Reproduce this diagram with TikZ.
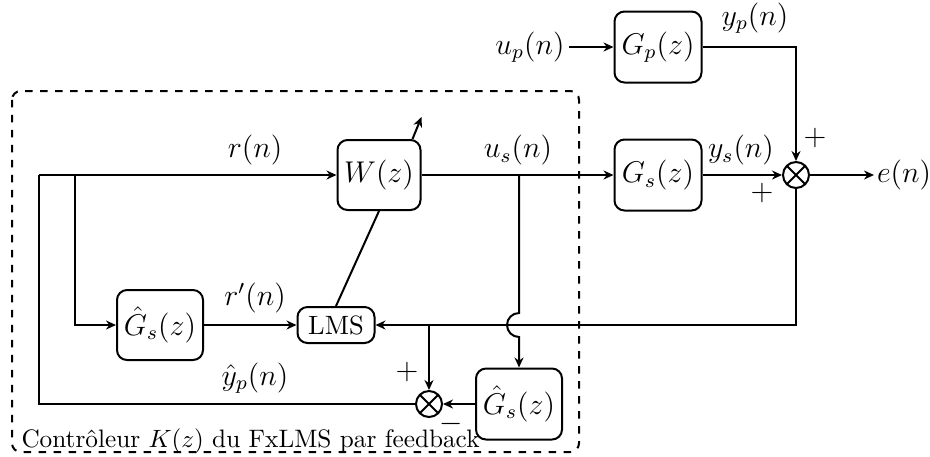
\documentclass[tikz,border=0pt]{standalone}
\usetikzlibrary{arrows.meta,calc}
\tikzset{
  blk/.style={draw, thick, rounded corners=4pt, inner sep=0pt},
  sumnode/.style={circle, draw, thick, minimum size=10.4pt, inner sep=0pt,
    path picture={\draw[thick] (path picture bounding box.north west) -- (path picture bounding box.south east)
      (path picture bounding box.north east) -- (path picture bounding box.south west);}},
  sig/.style={thick, -{Stealth[length=4pt,width=3.6pt]}},
  wire/.style={thick},
  lbl/.style={inner sep=0pt},
}
\begin{document}
\begin{tikzpicture}[x=0.4pt,y=-0.4pt, font=\fontsize{11.5}{14}\selectfont]
\useasboundingbox (0,0) rectangle (930,456);
% dashed controller frame
\draw[thick, dashed, rounded corners=3.5pt] (12,91) rectangle (579,452);
\node[lbl, anchor=base west, font=\fontsize{10.1}{12}\selectfont] (ctl) at (21,447) {Contr\^oleur $K(z)$ du FxLMS par feedback};
% blocks
\node[blk, minimum width=34.8pt, minimum height=28.4pt] (Gp) at (658,47) {$G_p(z)$};
\node[blk, minimum width=34.8pt, minimum height=28.4pt] (Gs) at (658,175) {$G_s(z)$};
\node[blk, minimum width=33.2pt, minimum height=28pt] (W) at (379,175) {$W(z)$};
\node[blk, minimum width=34.4pt, minimum height=28pt] (G1) at (160,325) {$\hat{G}_s(z)$};
\node[blk, minimum width=30.8pt, minimum height=14.4pt, font=\fontsize{10.6}{12}\selectfont] (LMS) at (336,325) {LMS};
\node[blk, minimum width=34.4pt, minimum height=28.4pt] (G2) at (519,404) {$\hat{G}_s(z)$};
\node[sumnode] (S1) at (796,175) {};
\node[sumnode] (S2) at (429,404) {};
\node[inner sep=1pt] (e) at (904,175) {$e(n)$};
\node[inner sep=1.5pt] (up) at (530,47) {$u_p(n)$};
% coordinates
\coordinate (sp1) at (39,175);
\coordinate (sp2) at (75,175);
\coordinate (usb) at (519,175);
\coordinate (br) at (429,325);
% connections
\draw[sig] (sp1) -- (W.west);
\draw[wire] (S2.west) -| (sp1);
\draw[sig] (sp2) |- (G1.west);
\draw[sig] (G1.east) -- (LMS.west);
\draw[wire] (W.south) -- (LMS.north);
\draw[sig] ($(W.north east)+(-9,0)$) -- ($(W.north east)+(0,-22)$);
\draw[sig] (W.east) -- (Gs.west);
\draw[sig] (Gs.east) -- (S1.west);
\draw[sig] (S1.east) -- (e.west);
\draw[sig] (up.east) -- (Gp.west);
\draw[sig] (Gp.east) -| (S1.north);
\draw[sig] (S1.south) |- (LMS.east);
\draw[sig] (br) -- (S2.north);
\draw[sig] (G2.west) -- (S2.east);
\draw[sig] (usb) -- (519,313) arc[start angle=90, end angle=270, radius=4.8pt] -- (G2.north);
% labels
\node[lbl] (lr) at (255,150) {$r(n)$};
\node[lbl] (lus) at (518,150) {$u_s(n)$};
\node[lbl] (lys) at (741,150) {$y_s(n)$};
\node[lbl] (lyp) at (755,18) {$y_p(n)$};
\node[lbl] (lrp) at (255,298) {$r'(n)$};
\node[lbl] (lyh) at (255,378) {$\hat{y}_p(n)$};
\node[lbl] (p1) at (815,138) {$+$};
\node[lbl] (p2) at (762,193) {$+$};
\node[lbl] (p3) at (407,372) {$+$};
\node[lbl] (m1) at (451,424) {$-$};
\end{tikzpicture}
\end{document}
